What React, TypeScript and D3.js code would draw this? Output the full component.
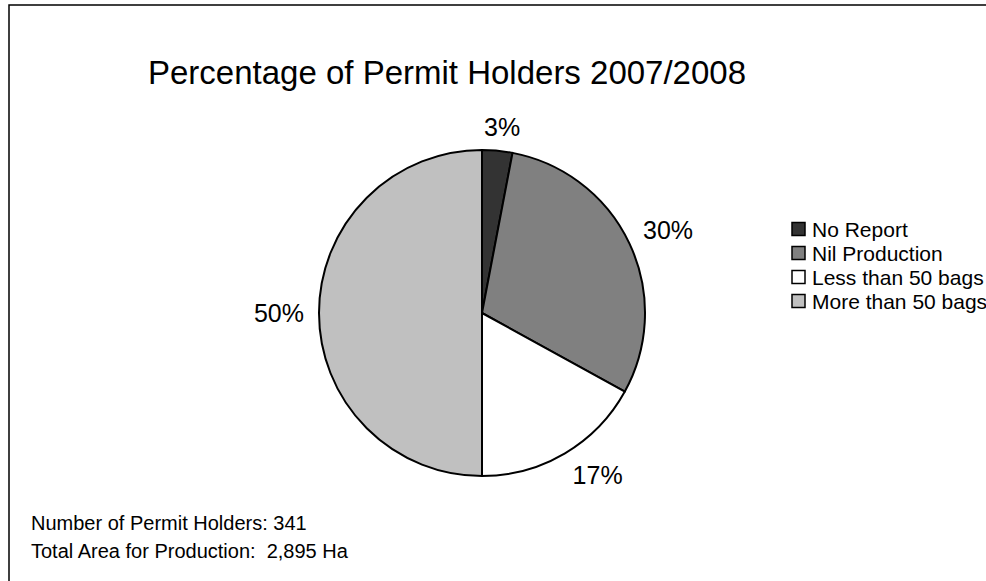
import React from "react";
import * as d3 from "d3";

const categories = ["No Report", "Nil Production", "Less than 50 bags", "More than 50 bags"];
const values = [3, 30, 17, 50];
const colors = ["#333333", "#808080", "#ffffff", "#c0c0c0"];
const title = "Percentage of Permit Holders 2007/2008";
const notes = ["Number of Permit Holders: 341", "Total Area for Production:  2,895 Ha"];

const W = 986;
const H = 581;
const FONT = "Arial, 'Liberation Sans', sans-serif";

function measure(text: string, size: number) {
  const c = document.createElement("canvas").getContext("2d");
  if (!c) return text.length * size * 0.55;
  c.font = `${size}px 'Liberation Sans', Arial, sans-serif`;
  return c.measureText(text).width;
}

export default function App() {
  const cx = 482;
  const cy = 313;
  const r = 163;
  const pie = d3.pie<number>().sort(null).value((d) => d);
  const arcs = pie(values);
  const arc = d3.arc<d3.PieArcDatum<number>>().innerRadius(0).outerRadius(r);
  const total = d3.sum(values);
  const labelSize = 25;
  const pad = 15;

  return (
    <div style={{ position: "absolute", left: 0, top: 0 }}>
      <svg width={W} height={H} style={{ display: "block", background: "#fff" }}>
        <rect x={9} y={5} width={W + 20} height={H + 20} fill="#fff" stroke="#000" strokeWidth={1.5} />
        <text x={148} y={84} fontFamily={FONT} fontSize={33} fill="#000">
          {title}
        </text>
        <g transform={`translate(${cx},${cy})`}>
          {arcs.map((a, i) => (
            <path key={i} d={arc(a) || ""} fill={colors[i]} stroke="#000" strokeWidth={2} strokeLinejoin="round" />
          ))}
          {arcs.map((a, i) => {
            const mid = (a.startAngle + a.endAngle) / 2;
            const label = `${Math.round((a.value / total) * 100)}%`;
            const w = measure(label, labelSize);
            const h = labelSize * 0.72;
            const s = Math.sin(mid);
            const c = -Math.cos(mid);
            const px = (r + pad) * s;
            const py = (r + pad) * c;
            const fx = Math.sign(s) * Math.min(1, Math.abs(s) * 2);
            const fy = Math.sign(c) * Math.min(1, Math.abs(c) * 2);
            const x = px + (w / 2) * fx;
            const y = py + (h / 2) * fy;
            return (
              <text
                key={i}
                x={x}
                y={y + h / 2}
                textAnchor="middle"
                fontFamily={FONT}
                fontSize={labelSize}
                fill="#000"
              >
                {label}
              </text>
            );
          })}
        </g>
        <g>
          {categories.map((cat, i) => (
            <g key={i} transform={`translate(792,${229 + i * 24})`}>
              <rect x={0} y={-6.5} width={13} height={13} fill={colors[i]} stroke="#000" strokeWidth={1.5} />
              <text x={20} y={7.5} fontFamily={FONT} fontSize={21} fill="#000">
                {cat}
              </text>
            </g>
          ))}
        </g>
        {notes.map((n, i) => (
          <text key={i} x={31} y={530 + i * 28} fontFamily={FONT} fontSize={20} fill="#000" style={{ whiteSpace: "pre" }}>
            {n}
          </text>
        ))}
      </svg>
    </div>
  );
}
